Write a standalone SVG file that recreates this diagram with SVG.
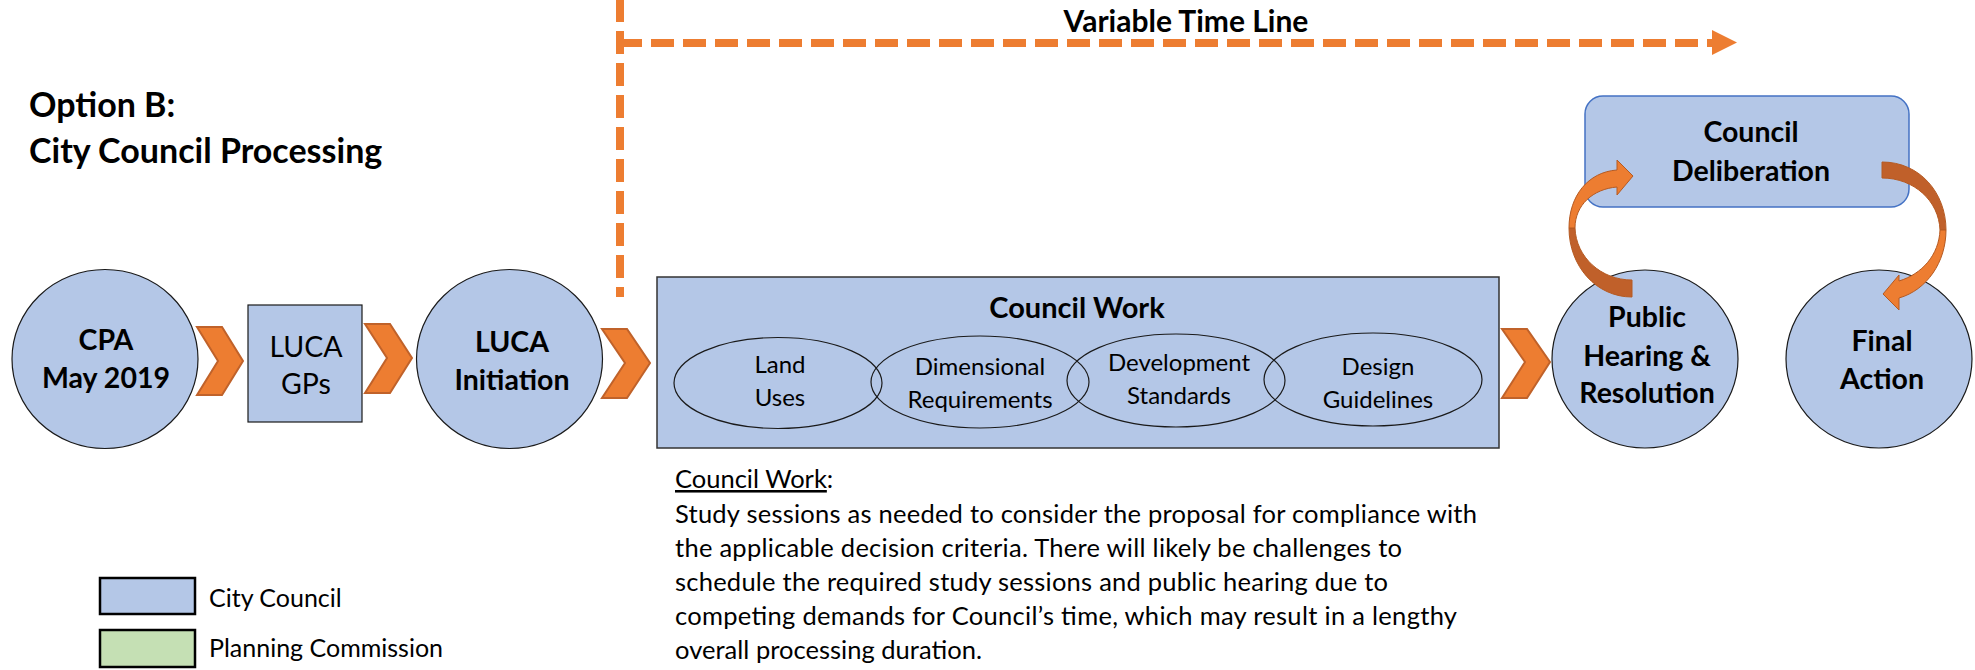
<svg xmlns="http://www.w3.org/2000/svg" width="1975" height="670" viewBox="0 0 1975 670">
<style>
text{font-family:Lato,"Liberation Sans",sans-serif;fill:#000}
.b{font-weight:bold}
.node{fill:#B4C7E7;stroke:#1a1a1a;stroke-width:1.2}
.sub{fill:none;stroke:#1a1a1a;stroke-width:1.2}
.chev{fill:#ED7D31;stroke:#C0622A;stroke-width:2;stroke-linejoin:miter}
.dash{fill:none;stroke:#ED7D31;stroke-width:8}
.cl{fill:#ED7D31;stroke:#B55A22;stroke-width:1}
.cd{fill:#C0602A;stroke:#B55A22;stroke-width:1}
.lbl{font-size:28.5px;text-anchor:middle}
.sm{font-size:24px;text-anchor:middle}
.body{font-size:25.5px}
</style>
<rect width="1975" height="670" fill="#fff"/>

<g id="title">
<text class="b" x="29" y="117" font-size="34">Option B:</text>
<text class="b" x="29" y="163" font-size="34">City Council Processing</text>
</g>

<g id="timeline">
<line class="dash" x1="620" y1="-1" x2="620" y2="297" stroke-dasharray="23 9"/>
<line class="dash" x1="619" y1="43" x2="1713" y2="43" stroke-dasharray="23 9"/>
<polygon points="1712,30 1737,42.5 1712,55" fill="#ED7D31"/>
<text class="b" x="1186" y="32" font-size="30" text-anchor="middle">Variable Time Line</text>
</g>

<g id="connectors">
<polygon class="chev" points="197,327 222,327 243,361 222,395 197,395 218,361"/>
<polygon class="chev" points="365,324 390,324 412,358 390,393 365,393 387,358"/>
<polygon class="chev" points="602,329 627,329 650,363 627,398 602,398 625,363"/>
<polygon class="chev" points="1502,329 1527,329 1550,362 1527,398 1502,398 1525,362"/>
</g>

<g id="cpa">
<ellipse class="node" cx="105" cy="359" rx="93" ry="89.5"/>
<text class="lbl b" x="106" y="350">CPA</text>
<text class="lbl b" x="106" y="388">May 2019</text>
</g>

<g id="luca-gps">
<rect class="node" x="248" y="305" width="114" height="117" stroke="#333"/>
<text class="lbl" x="306" y="357" font-size="32">LUCA</text>
<text class="lbl" x="306" y="394" font-size="32">GPs</text>
</g>

<g id="luca-initiation">
<ellipse class="node" cx="509.5" cy="359" rx="93" ry="89.5"/>
<text class="lbl b" x="512" y="352">LUCA</text>
<text class="lbl b" x="512" y="390">Initiation</text>
</g>

<g id="council-work">
<rect class="node" x="657" y="277" width="842" height="171" style="stroke:#333;stroke-width:1.5"/>
<text class="b" x="1077" y="318" font-size="29" text-anchor="middle">Council Work</text>
<ellipse class="sub" cx="778" cy="383" rx="104" ry="45.5"/>
<ellipse class="sub" cx="980" cy="382" rx="109" ry="46"/>
<ellipse class="sub" cx="1176" cy="380.5" rx="109" ry="46.5"/>
<ellipse class="sub" cx="1373" cy="379.5" rx="109" ry="46.5"/>
<text class="sm" x="780" y="373">Land</text>
<text class="sm" x="780" y="406">Uses</text>
<text class="sm" x="980" y="375">Dimensional</text>
<text class="sm" x="980" y="408">Requirements</text>
<text class="sm" x="1179" y="371">Development</text>
<text class="sm" x="1179" y="404">Standards</text>
<text class="sm" x="1378" y="375">Design</text>
<text class="sm" x="1378" y="408">Guidelines</text>
</g>

<g id="public-hearing">
<ellipse class="node" cx="1645" cy="359" rx="93" ry="89"/>
<text class="lbl b" x="1647" y="327">Public</text>
<text class="lbl b" x="1647" y="366">Hearing &amp;</text>
<text class="lbl b" x="1647" y="403">Resolution</text>
</g>

<g id="final-action">
<ellipse class="node" cx="1879" cy="359" rx="93" ry="89"/>
<text class="lbl b" x="1882" y="351">Final</text>
<text class="lbl b" x="1882" y="389">Action</text>
</g>

<g id="council-deliberation">
<rect x="1585" y="96" width="324" height="111" rx="18" fill="#B4C7E7" stroke="#4472C4" stroke-width="1.5"/>
<text class="lbl b" x="1751" y="142">Council</text>
<text class="lbl b" x="1751" y="181">Deliberation</text>
</g>

<g id="loop-arrows">
<path class="cd" d="M1632,297 C1596,297 1569,266 1569,228 L1575,228 C1576,257 1601,280 1632,280 Z"/>
<path class="cl" d="M1569,228 C1569,196 1588,172 1617,170 L1617,160 L1633,176 L1617,195 L1617,187 C1593,189 1575,205 1575,228 Z"/>
<path class="cd" d="M1882,162 C1920,162 1946,193 1946,230 L1940,230 C1939,201 1914,178 1882,178 Z"/>
<path class="cl" d="M1946,230 C1946,262 1927,290 1899,298 L1899,310 L1883,294 L1899,275 L1899,281 C1922,274 1939,255 1940,230 Z"/>
</g>

<g id="notes">
<text class="body" x="675" y="488"><tspan text-decoration="underline">Council Work</tspan>:</text>
<text class="body" x="675" y="523" textLength="802">Study sessions as needed to consider the proposal for compliance with</text>
<text class="body" x="675" y="557" textLength="727">the applicable decision criteria. There will likely be challenges to</text>
<text class="body" x="675" y="591" textLength="713">schedule the required study sessions and public hearing due to</text>
<text class="body" x="675" y="625" textLength="782">competing demands for Council’s time, which may result in a lengthy</text>
<text class="body" x="675" y="659" textLength="307">overall processing duration.</text>
</g>

<g id="legend">
<rect x="100" y="578" width="95" height="36" fill="#B4C7E7" stroke="#000" stroke-width="2.5"/>
<text x="209" y="607" font-size="25">City Council</text>
<rect x="100" y="630" width="95" height="37" fill="#C5E0B4" stroke="#000" stroke-width="2.5"/>
<text x="209" y="657" font-size="25">Planning Commission</text>
</g>
</svg>
